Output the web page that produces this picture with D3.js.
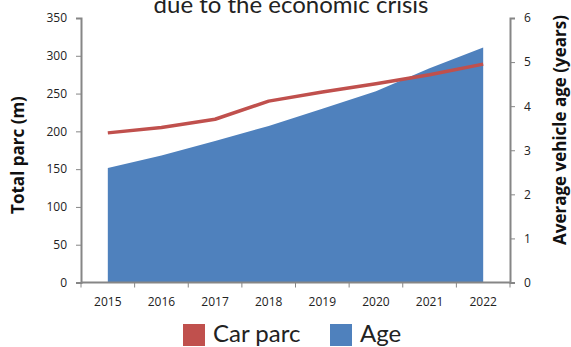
<!DOCTYPE html>
<html>
<head>
<meta charset="utf-8">
<script src="https://cdn.jsdelivr.net/npm/d3@7"></script>
<style>
  html, body { margin: 0; padding: 0; background: #fff; }
  svg { display: block; }
</style>
</head>
<body>
<svg id="chart" width="571" height="347"></svg>
<script>
// Car parc (millions) and average vehicle age (years), 2015-2022
const years = ["2015", "2016", "2017", "2018", "2019", "2020", "2021", "2022"];
const carParc = [198, 205, 216, 240, 252, 263, 275, 289];
const avgAge = [2.60, 2.88, 3.21, 3.55, 3.94, 4.34, 4.86, 5.33];
const leftTicks = [0, 50, 100, 150, 200, 250, 300, 350];
const rightTicks = [0, 1, 2, 3, 4, 5, 6];
const legendItems = [
  { label: "Car parc", color: "#C0504D" },
  { label: "Age", color: "#4F81BD" }
];

const svg = d3.select("#chart");
const plotLeft = 81, plotRight = 510, plotTop = 18, plotBottom = 282.5;
const axisColor = "#868686";
const titleFont = "Lato, 'Open Sans', sans-serif";
const tickFont = "'Open Sans', sans-serif";

const x = d3.scaleBand().domain(years).range([plotLeft, plotRight]);
const xc = d => x(d) + x.bandwidth() / 2;
const yL = d3.scaleLinear().domain([0, 350]).range([plotBottom, plotTop]);
const yR = d3.scaleLinear().domain([0, 6]).range([plotBottom, plotTop]);

// Age area (right axis)
const area = d3.area()
  .x((d, i) => xc(years[i]))
  .y0(yR(0))
  .y1(d => yR(d));
svg.append("path")
  .datum(avgAge)
  .attr("d", area)
  .attr("fill", "#4F81BD");

// Car parc line (left axis)
const line = d3.line()
  .x((d, i) => xc(years[i]))
  .y(d => yL(d));
svg.append("path")
  .datum(carParc)
  .attr("d", line)
  .attr("fill", "none")
  .attr("stroke", "#C0504D")
  .attr("stroke-width", 3.5)
  .attr("stroke-linejoin", "round");

function styleAxis(g) {
  g.selectAll(".domain").attr("stroke", axisColor).attr("stroke-width", 2);
  g.selectAll(".tick line").attr("stroke", axisColor).attr("stroke-width", 1);
  g.selectAll(".tick text")
    .attr("fill", "#222")
    .style("font-family", tickFont)
    .style("font-size", "12px");
}

// Left axis
svg.append("g")
  .attr("transform", `translate(${plotLeft},0)`)
  .call(d3.axisLeft(yL).tickValues(leftTicks).tickFormat(d3.format("d"))
    .tickSize(5).tickSizeOuter(5).tickPadding(9))
  .call(styleAxis);

// Right axis
svg.append("g")
  .attr("transform", `translate(${plotRight},0)`)
  .call(d3.axisRight(yR).tickValues(rightTicks).tickFormat(d3.format("d"))
    .tickSize(5).tickSizeOuter(5).tickPadding(9))
  .call(styleAxis);

// Bottom axis: ticks at category boundaries, labels centred in each band
const xAxisG = svg.append("g").attr("transform", `translate(0,${plotBottom})`);
xAxisG.append("line")
  .attr("x1", plotLeft).attr("x2", plotRight)
  .attr("stroke", axisColor).attr("stroke-width", 2);
xAxisG.selectAll("line.tk")
  .data(years.concat(["end"]))
  .join("line")
  .attr("class", "tk")
  .attr("x1", (d, i) => plotLeft + i * x.bandwidth())
  .attr("x2", (d, i) => plotLeft + i * x.bandwidth())
  .attr("y1", 0).attr("y2", 5)
  .attr("stroke", axisColor);
xAxisG.selectAll("text")
  .data(years)
  .join("text")
  .attr("x", d => xc(d))
  .attr("y", 23)
  .attr("text-anchor", "middle")
  .attr("fill", "#222")
  .style("font-family", tickFont)
  .style("font-size", "12px")
  .text(d => d);

// Axis titles
svg.append("text")
  .attr("transform", "translate(24,155) rotate(-90)")
  .attr("text-anchor", "middle")
  .attr("fill", "#111")
  .style("font-family", "'Open Sans', sans-serif")
  .style("font-weight", "bold")
  .style("font-size", "17px")
  .text("Total parc (m)");

svg.append("text")
  .attr("transform", "translate(566,130) rotate(-90)")
  .attr("text-anchor", "middle")
  .attr("fill", "#111")
  .style("font-family", "'Open Sans', sans-serif")
  .style("font-weight", "bold")
  .style("font-size", "17px")
  .text("Average vehicle age (years)");

// Title (second line, sits at the top edge)
svg.append("text")
  .attr("x", 291)
  .attr("y", 13)
  .attr("text-anchor", "middle")
  .attr("fill", "#222")
  .style("font-family", titleFont)
  .style("font-size", "24px")
  .text("due to the economic crisis");

// Legend
const legendX = [183, 330];
const lg = svg.selectAll("g.legend")
  .data(legendItems)
  .join("g")
  .attr("class", "legend")
  .attr("transform", (d, i) => `translate(${legendX[i]},324)`);
lg.append("rect")
  .attr("width", 22).attr("height", 22)
  .attr("fill", d => d.color);
lg.append("text")
  .attr("x", 30)
  .attr("y", 18)
  .attr("fill", "#222")
  .style("font-family", titleFont)
  .style("font-size", "24px")
  .text(d => d.label);
</script>
</body>
</html>
